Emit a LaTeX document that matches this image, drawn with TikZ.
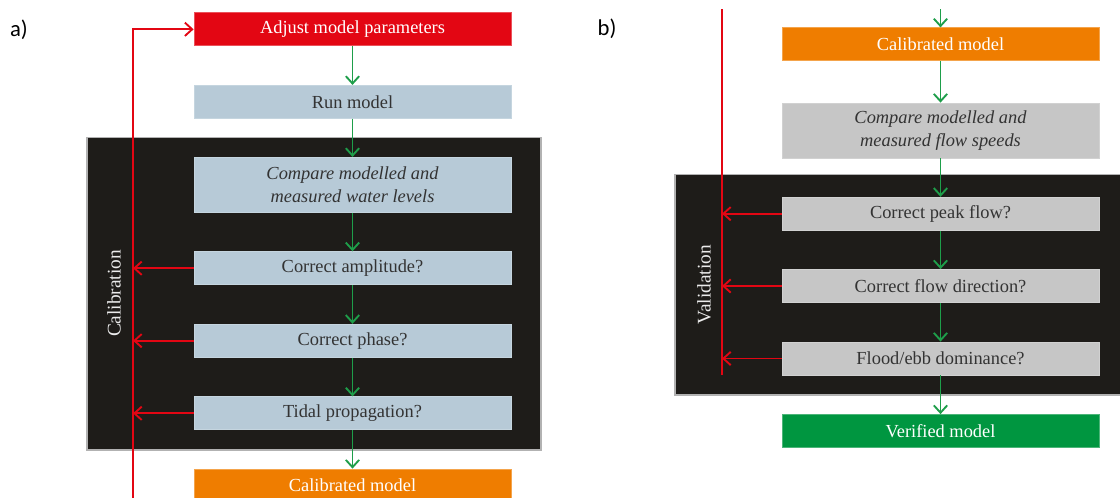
\documentclass[tikz,border=0pt]{standalone}
\usepackage{fontspec}
\setmainfont{Liberation Serif}
\newfontfamily\labelfont{Carlito}
\usetikzlibrary{arrows.meta}
\definecolor{cred}{HTML}{E30613}
\definecolor{cblue}{HTML}{B7CAD7}
\definecolor{cgray}{HTML}{C6C6C6}
\definecolor{corange}{HTML}{EF7D00}
\definecolor{cgreen}{HTML}{009640}
\definecolor{carrow}{HTML}{1E9E4A}
\definecolor{cdark}{HTML}{1E1C19}
\definecolor{ctext}{HTML}{333333}
\tikzset{
  box/.style={rectangle, minimum width=237.75pt, minimum height=24.75pt, inner sep=0pt,
              font=\fontsize{13.8}{17}\selectfont, align=center, line width=0.6pt},
  tallbox/.style={box, minimum height=41.25pt, font=\fontsize{13.8}{16.8}\selectfont\itshape},
  bluebox/.style={fill=cblue, draw=cblue!80!white, text=ctext},
  graybox/.style={fill=cgray, draw=cgray!80!white, text=ctext},
  redbox/.style={fill=cred, draw=cred!70!white, text=white},
  orangebox/.style={fill=corange, draw=corange!70!white, text=white},
  greenbox/.style={fill=cgreen, draw=cgreen!70!white, text=white},
  panel/.style={fill=cdark, draw=gray!60, line width=0.8pt},
  flow/.style={draw=carrow, line width=1.4pt, -{Straight Barb[length=5.5pt,width=10pt]}},
  back/.style={draw=cred, line width=1.4pt, -{Straight Barb[length=5.5pt,width=10pt]}},
  backline/.style={draw=cred, line width=1.4pt},
  panellabel/.style={font=\fontsize{14.5}{17}\selectfont, text=white!92!black, rotate=90},
  sublabel/.style={font=\labelfont\fontsize{17}{20}\selectfont, text=black}
}
\begin{document}
\begin{tikzpicture}[x=0.75pt,y=-0.75pt]
\useasboundingbox (0,0) rectangle (1120,497);
\clip (0,0) rectangle (1120,497);
\fill[white] (0,0) rectangle (1120,497);

% ---------- panel a ----------
\node[sublabel] (la) at (19,30) {a)};
\path[panel] (87,137.5) rectangle (541,450);
\node[panellabel] (calib) at (114,293.5) {Calibration};

\node[box, redbox] (adjust) at (352.5,29.3) {Adjust model parameters};
\node[box, bluebox] (run) at (352.5,101.8) {Run model};
\node[tallbox, bluebox] (cmpa) at (352.5,184.8) {Compare modelled and\\measured water levels};
\node[box, bluebox] (amp) at (352.5,268.2) {Correct amplitude?};
\node[box, bluebox] (phase) at (352.5,340.7) {Correct phase?};
\node[box, bluebox] (tidal) at (352.5,413.3) {Tidal propagation?};
\node[box, orangebox] (cala) at (352.5,485.5) {Calibrated model};

\draw[flow] (adjust) -- (run);
\draw[flow] (run) -- (cmpa);
\draw[flow] (cmpa) -- (amp);
\draw[flow] (amp) -- (phase);
\draw[flow] (phase) -- (tidal);
\draw[flow] (tidal) -- (cala);

\coordinate (ra) at (133,500);
\draw[back] (ra) |- (adjust.west);
\draw[back] (amp.west) -- (amp.west -| ra);
\draw[back] (phase.west) -- (phase.west -| ra);
\draw[back] (tidal.west) -- (tidal.west -| ra);

% ---------- panel b ----------
\node[sublabel] (lb) at (607,29) {b)};
\path[panel] (675,174.7) rectangle (1122,395);
\node[panellabel] (valid) at (704,285) {Validation};

\node[box, orangebox] (calb) at (940.5,44.3) {Calibrated model};
\node[tallbox, graybox] (cmpb) at (940.5,130.5) {Compare modelled and\\measured flow speeds};
\node[box, graybox] (peak) at (940.5,213.7) {Correct peak flow?};
\node[box, graybox] (dir) at (940.5,286) {Correct flow direction?};
\node[box, graybox] (flood) at (940.5,358.5) {Flood/ebb dominance?};
\node[box, greenbox] (ver) at (940.5,431) {Verified model};

\coordinate (topb) at (940.5,9);
\draw[flow] (topb) -- (calb);
\draw[flow] (calb) -- (cmpb);
\draw[flow] (cmpb) -- (peak);
\draw[flow] (peak) -- (dir);
\draw[flow] (dir) -- (flood);
\draw[flow] (flood) -- (ver);

\coordinate (rb0) at (722,9);
\coordinate (rb1) at (722,375);
\draw[backline] (rb0) -- (rb1);
\draw[back] (peak.west) -- (peak.west -| rb0);
\draw[back] (dir.west) -- (dir.west -| rb0);
\draw[back] (flood.west) -- (flood.west -| rb0);
\end{tikzpicture}
\end{document}
